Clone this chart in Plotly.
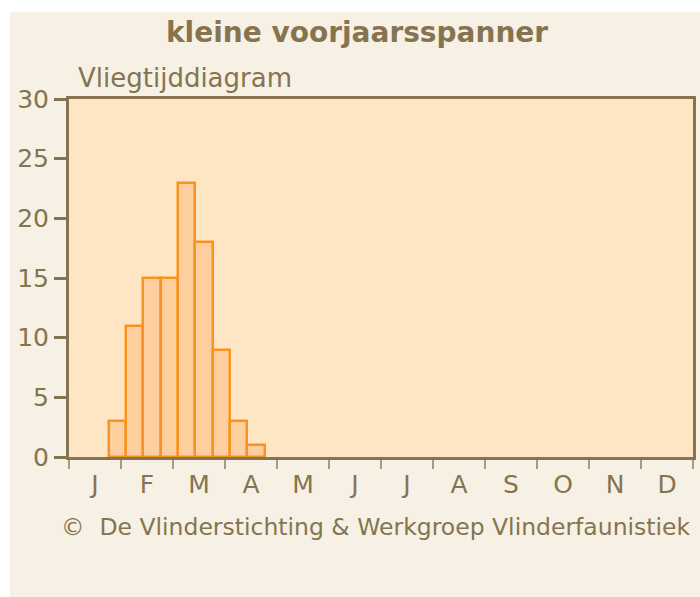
import plotly.graph_objects as go

# Data: counts per decade (third of a month), index 0 = Jan 1-10
decade_index = [2, 3, 4, 5, 6, 7, 8, 9, 10]
counts = [3, 11, 15, 15, 23, 18, 9, 3, 1]
month_labels = ["J", "F", "M", "A", "M", "J", "J", "A", "S", "O", "N", "D"]
y_ticks = [0, 5, 10, 15, 20, 25, 30]

title_text = "kleine voorjaarsspanner"
subtitle_text = "Vliegtijddiagram"
credit_text = "\u00a9\u00a0 De Vlinderstichting & Werkgroep Vlinderfaunistiek"

AXIS = "#85744f"
BG = "#f6f1e4"
PLOT_BG = "#fee6c4"
BAR_FILL = "#fecf9e"
BAR_LINE = "#f7931e"
FONT = "DejaVu Sans"

W, H = 700, 597
L, R, T, B = 69, 7, 99, 140
pw, ph = W - L - R, H - T - B

fig = go.Figure()
fig.add_trace(go.Bar(
    x=[d + 0.5 for d in decade_index],
    y=counts,
    width=1,
    offset=-0.22,
    marker=dict(color=BAR_FILL, line=dict(color=BAR_LINE, width=2.5)),
    hoverinfo="y",
))

month_centers = [3 * i + 1.5 for i in range(12)]
month_edges = [3 * i for i in range(13)]

fig.update_layout(
    width=W, height=H,
    margin=dict(l=L, r=R, t=T, b=B, pad=0),
    paper_bgcolor=BG,
    plot_bgcolor=PLOT_BG,
    showlegend=False,
    bargap=0,
    font=dict(family=FONT, color=AXIS),
    xaxis=dict(
        range=[0, 36],
        tickvals=month_centers,
        ticktext=month_labels,
        ticks="",
        ticklabelstandoff=3,
        tickfont=dict(size=25, color=AXIS),
        showgrid=False, zeroline=False, automargin=False,
        showline=True, linecolor=AXIS, linewidth=3, mirror=True,
        minor=dict(tickvals=month_edges, ticks="outside", ticklen=9,
                   tickwidth=2, tickcolor="#a89a7c", showgrid=False),
        fixedrange=True,
    ),
    yaxis=dict(
        range=[0, 30],
        tickvals=y_ticks,
        ticks="outside", ticklen=12, tickwidth=3, tickcolor=AXIS,
        tickfont=dict(size=25, color=AXIS),
        showgrid=False, zeroline=False, automargin=False,
        showline=True, linecolor=AXIS, linewidth=3, mirror=True,
        fixedrange=True,
    ),
)

# white strips outside the beige panel (top and left)
fig.add_shape(type="rect", xref="paper", yref="paper",
              x0=-L / pw - 0.01, x1=(10 - L) / pw, y0=-B / ph - 0.01, y1=1 + T / ph + 0.01,
              fillcolor="white", line=dict(width=0), layer="below")
fig.add_shape(type="rect", xref="paper", yref="paper",
              x0=-L / pw - 0.01, x1=1 + R / pw + 0.01, y0=1 + (T - 12) / ph, y1=1 + T / ph + 0.01,
              fillcolor="white", line=dict(width=0), layer="below")

fig.add_annotation(text="<b>" + title_text + "</b>", xref="paper", yref="paper",
                   x=(357 - L) / pw, y=1 + (T - 33) / ph, xanchor="center", yanchor="middle",
                   showarrow=False, font=dict(family=FONT, size=28, color=AXIS))
fig.add_annotation(text=subtitle_text, xref="paper", yref="paper",
                   x=(76 - L) / pw, y=1 + (T - 78) / ph, xanchor="left", yanchor="middle",
                   showarrow=False, font=dict(family=FONT, size=26, color=AXIS))
fig.add_annotation(text=credit_text, xref="paper", yref="paper",
                   x=(59 - L) / pw, y=-(527 - (T + ph)) / ph, xanchor="left", yanchor="middle",
                   showarrow=False, font=dict(family=FONT, size=23.5, color=AXIS))

fig.write_html("out.html",
               config={"displayModeBar": False},
               post_script="document.body.style.margin='0';document.body.style.overflow='hidden';")
